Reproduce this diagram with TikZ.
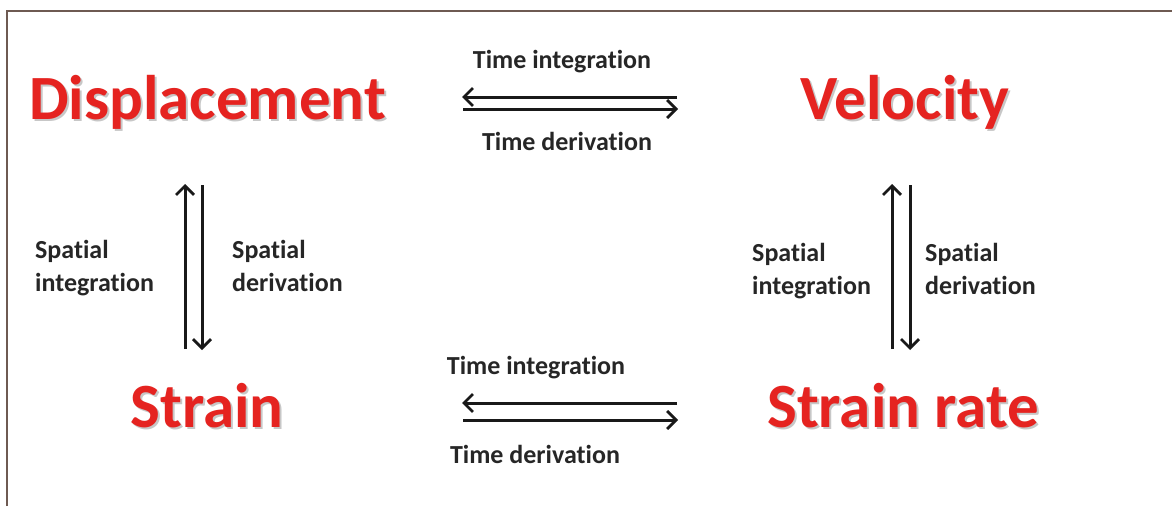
\documentclass[tikz,border=0pt]{standalone}
\usepackage{fontspec}
\setmainfont{Carlito}[Ligatures=NoCommon]
\usetikzlibrary{arrows.meta}
\definecolor{titlered}{HTML}{E52320}
\definecolor{shadowgray}{HTML}{9A9A9A}
\definecolor{framecol}{HTML}{6E5A52}
\tikzset{
  bigword/.style={font={\fontsize{63}{70}\selectfont\bfseries}, text=titlered, inner sep=0pt, anchor=base},
  bigshadow/.style={font={\fontsize{63}{70}\selectfont\bfseries}, text=shadowgray, opacity=0.55, inner sep=0pt, anchor=base},
  smalltext/.style={font={\fontsize{26}{33}\selectfont\bfseries}, text=black!85, inner sep=0pt},
  flow/.style={line width=3pt, -{Straight Barb[length=9pt,width=18pt,line width=2.8pt]}, black!90},
  framestyle/.style={line width=1.6pt, framecol}
}
\begin{document}
\begin{tikzpicture}[x=1pt,y=-1pt]
\useasboundingbox (0,0) rectangle (1172,506);
\fill[white] (0,0) rectangle (1172,506);
% frame
\coordinate (fbl) at (7,506);
\coordinate (ftl) at (7,11);
\coordinate (ftr) at (1172,11);
\draw[framestyle] (fbl) -- (ftl) -- (ftr);

% big words with shadows
\node[bigshadow] (dispS) at (209.5,121) {Displacement};
\node[bigword] (disp) at (207.5,119) {Displacement};
\node[bigshadow] (veloS) at (907,121) {Velocity};
\node[bigword] (velo) at (905,119) {Velocity};
\node[bigshadow] (strainS) at (209,429) {Strain};
\node[bigword] (strain) at (207,427) {Strain};
\node[bigshadow] (rateS) at (905,429) {Strain rate};
\node[bigword] (rate) at (903,427) {Strain rate};

% time labels
\node[smalltext, anchor=base] (ti1) at (562,68) {Time integration};
\node[smalltext, anchor=base] (td1) at (567,150) {Time derivation};
\node[smalltext, anchor=base] (ti2) at (536,374) {Time integration};
\node[smalltext, anchor=base] (td2) at (535,463) {Time derivation};

% spatial labels (base = last line)
\node[smalltext, anchor=base west, align=left] (si1) at (35,291) {Spatial\\integration};
\node[smalltext, anchor=base west, align=left] (sd1) at (232,291) {Spatial\\derivation};
\node[smalltext, anchor=base west, align=left] (si2) at (752,294) {Spatial\\integration};
\node[smalltext, anchor=base west, align=left] (sd2) at (925,294) {Spatial\\derivation};

% arrow end points
\coordinate (a1s) at (677,97);  \coordinate (a1e) at (462,97);
\coordinate (a2s) at (463,109); \coordinate (a2e) at (678,109);
\coordinate (a3s) at (677,403); \coordinate (a3e) at (462,403);
\coordinate (a4s) at (463,420); \coordinate (a4e) at (678,420);
\coordinate (v1s) at (185,349); \coordinate (v1e) at (185,184);
\coordinate (v2s) at (202,185); \coordinate (v2e) at (202,350);
\coordinate (v3s) at (892,349); \coordinate (v3e) at (892,184);
\coordinate (v4s) at (910,185); \coordinate (v4e) at (910,350);

\draw[flow] (a1s) -- (a1e);
\draw[flow] (a2s) -- (a2e);
\draw[flow] (a3s) -- (a3e);
\draw[flow] (a4s) -- (a4e);
\draw[flow] (v1s) -- (v1e);
\draw[flow] (v2s) -- (v2e);
\draw[flow] (v3s) -- (v3e);
\draw[flow] (v4s) -- (v4e);
\end{tikzpicture}
\end{document}
